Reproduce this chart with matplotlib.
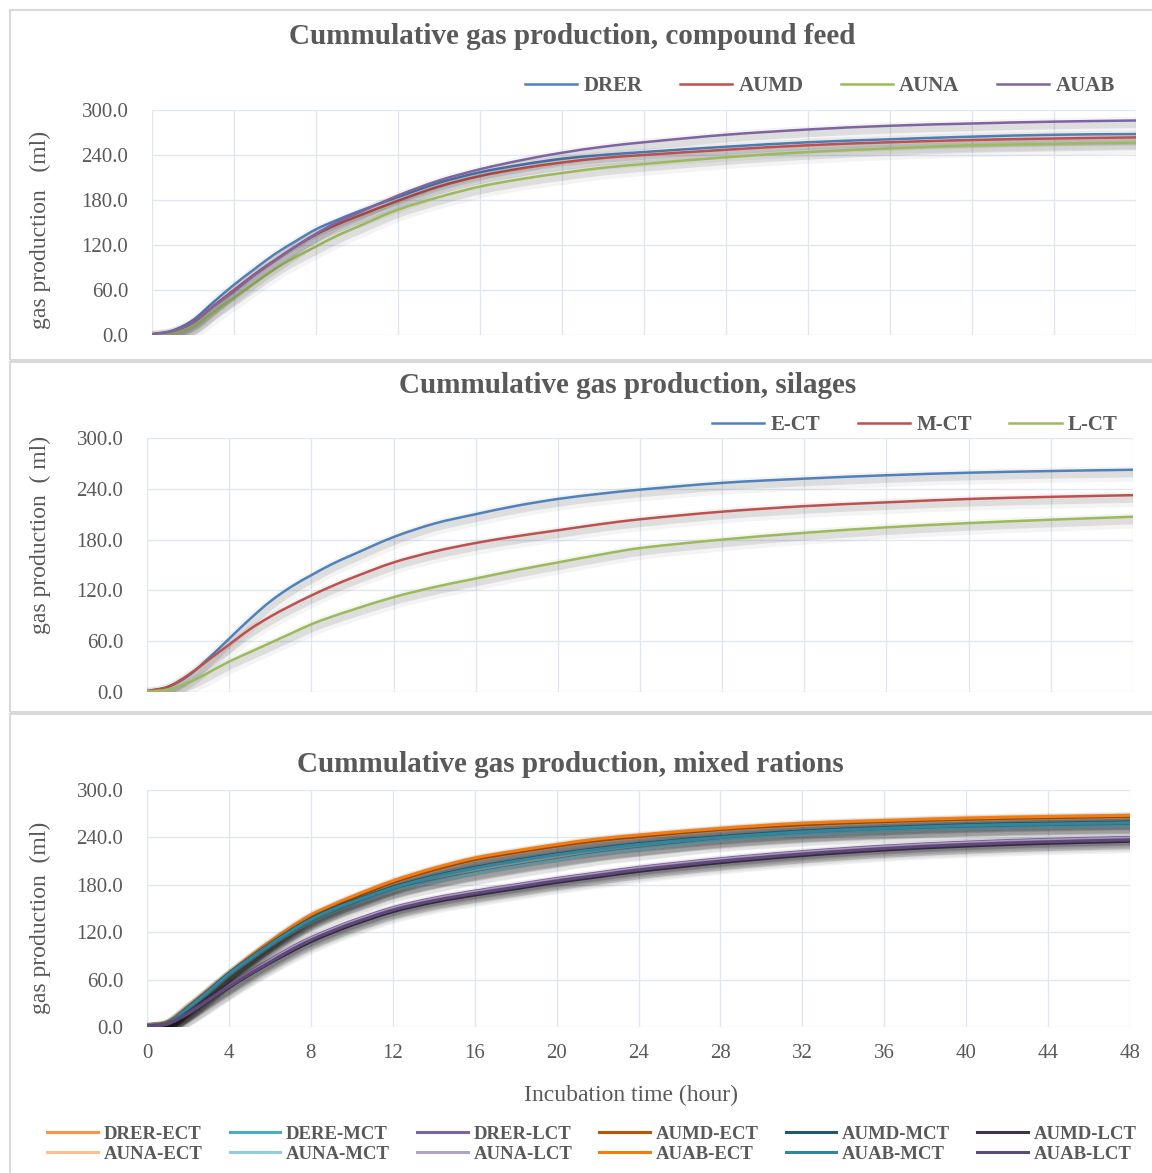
import matplotlib
matplotlib.use("Agg")
import matplotlib.pyplot as plt
import matplotlib.patheffects as pe
from matplotlib.patches import Rectangle, PathPatch
from matplotlib.path import Path
from matplotlib.lines import Line2D

plt.rcParams['font.family'] = ['Liberation Serif', 'DejaVu Serif']

# ---------------- data ----------------
hours = [0, 1, 2, 3, 4, 5, 6, 7, 8, 9, 10, 12, 14, 16, 18, 20, 22, 24, 28, 32, 36, 40, 44, 48]

# compound feed
drer = [1, 6, 20, 44, 67, 88, 108, 125, 141, 153, 164, 184, 203, 217, 227, 235, 240, 244, 251, 257, 261, 264.5, 267, 268]
aumd = [1, 5, 17, 39, 60, 81, 100, 118, 134, 147, 158, 179, 198, 212, 222, 230, 236, 240, 247, 253, 257, 260, 262, 263.5]
auna = [0.5, 3, 11, 31, 50, 69, 88, 104, 118, 132, 144, 167, 184, 198, 208, 216, 223, 228, 237, 244, 249, 253, 255, 256.5]
auab = [1, 5, 16, 38, 58, 80, 99, 118, 135, 150, 162, 186, 206, 221, 233, 243, 251, 257, 267, 274, 279, 282, 284.5, 286]

# silages
e_ct = [1, 6, 19, 40, 63, 86, 107, 124, 138, 151, 162, 183, 199, 210, 220, 228, 234, 239, 247, 252, 256, 259, 261, 262.5]
m_ct = [1, 6, 20, 38, 56, 74, 89, 102, 114, 125, 135, 153, 166, 176, 184, 191, 198, 204, 213, 219.5, 224, 228, 230.5, 232.5]
l_ct = [0.5, 3, 11, 23, 36, 47, 58, 69, 80, 89, 97, 112, 124, 134, 144, 153, 162, 170, 180, 188, 194.5, 199.5, 203.5, 207]

# mixed rations
drer_ect = [1, 6, 25, 46, 67, 88, 107, 125, 141, 153, 164, 184, 200, 213, 222, 230, 237, 242, 250.5, 257, 260.5, 263.5, 265.5, 267]
dere_mct = [1, 5, 22, 44, 66, 85, 104, 119, 133.5, 145, 155, 173, 185, 195, 204, 212, 220, 226, 237, 244, 248.5, 251.5, 253.5, 255]
drer_lct = [0.5, 4, 18, 36, 53, 70, 85, 100, 113, 124, 134, 151, 163, 172, 180, 188, 195, 202, 213, 222, 229, 234, 237.5, 240]
aumd_ect = [1, 6, 25, 46, 67, 87, 106, 124, 140, 152, 163, 183, 199, 212, 221, 229, 236, 241, 250, 256, 260, 263, 265, 266.5]
aumd_mct = [1, 5, 25, 46, 68, 87, 105, 122, 137, 149, 159, 177, 191, 202, 211, 219, 226, 232, 241, 248, 252.5, 256, 258, 259.5]
aumd_lct = [0.5, 4, 16, 33, 50, 66, 81, 95, 108, 119, 129, 146, 158, 167, 175, 183, 190, 197, 208, 217, 224, 229, 232.5, 235]
auna_ect = [1, 5, 24, 45, 66, 86, 105, 123, 139, 151, 162, 182, 198, 211, 220, 228, 235, 240, 249, 255, 259, 262, 264, 265.5]
auna_mct = [1, 5, 22, 43, 65, 84, 102, 118, 132, 144, 154, 172, 184, 194, 203, 211, 219, 225, 236, 243, 247.5, 250.5, 252.5, 254]
auna_lct = [0.5, 4, 18, 35, 52, 69, 84, 99, 112, 123, 133, 150, 162, 171, 179, 187, 194, 201, 212, 221, 228, 233, 236.5, 239]
auab_ect = [1, 6, 26, 47, 68, 89, 108, 126, 142, 154, 165, 185, 201, 214, 223, 231, 238, 243, 251.5, 258, 261.5, 264.5, 266.5, 268]
auab_mct = [1, 5, 24, 45, 67, 86, 104, 121, 136, 148, 158, 176, 190, 201, 210, 218, 225, 231, 240, 247, 251.5, 255, 257, 258.5]
auab_lct = [0.5, 4, 17, 34, 51, 67, 82, 97, 110, 121, 131, 148, 160, 169, 177, 185, 192, 199, 210, 219, 226, 231, 234.5, 237]

y_ticks = [0, 60, 120, 180, 240, 300]
x_ticks = list(range(0, 49, 4))

TXT = '#595959'
GRID = '#E1E7F0'

W, H = 1152, 1173
fig = plt.figure(figsize=(W / 100, H / 100), dpi=100)


def fx(px):
    return px / W


def fy(py):
    return 1 - py / H


# panel frames
for top, bot in [(10, 360), (362, 712), (714, 1190)]:
    fig.patches.append(Rectangle((fx(10), fy(bot)), fx(1160) - fx(10), fy(top) - fy(bot),
                                 transform=fig.transFigure, fill=False,
                                 edgecolor='#D9D9D9', lw=1.5))


def make_ax(left, right, top, bot, show_x):
    ax = fig.add_axes([fx(left), fy(bot), fx(right) - fx(left), fy(top) - fy(bot)])
    ax.set_xlim(0, 48)
    ax.set_ylim(0, 300)
    ax.set_xticks(x_ticks)
    ax.set_yticks(y_ticks)
    ax.set_yticklabels([f"{v:.1f}" for v in y_ticks])
    ax.grid(True, color=GRID, lw=1)
    ax.set_axisbelow(True)
    for s in ax.spines.values():
        s.set_visible(False)
    ax.tick_params(length=0, labelsize=15, labelcolor=TXT, pad=17)
    if not show_x:
        ax.set_xticklabels([])
    else:
        ax.tick_params(axis='x', pad=12)
    return ax


def shade(strength):
    return [pe.SimpleLineShadow(offset=(1, -2.5), shadow_color='k', alpha=0.09 * strength, linewidth=6),
            pe.SimpleLineShadow(offset=(1, -3), shadow_color='k', alpha=0.045 * strength, linewidth=11),
            pe.Normal()]


def smooth_line(ax, xs, ys, color, lw, strength):
    # Excel style smoothed line: cubic Bezier through the data points
    n = len(xs)
    slopes = []
    for i in range(n):
        a, b = max(i - 1, 0), min(i + 1, n - 1)
        slopes.append((ys[b] - ys[a]) / (xs[b] - xs[a]))
    verts = [(xs[0], ys[0])]
    codes = [Path.MOVETO]
    for i in range(n - 1):
        d = (xs[i + 1] - xs[i]) / 3
        verts += [(xs[i] + d, ys[i] + slopes[i] * d),
                  (xs[i + 1] - d, ys[i + 1] - slopes[i + 1] * d),
                  (xs[i + 1], ys[i + 1])]
        codes += [Path.CURVE4] * 3
    ax.add_patch(PathPatch(Path(verts, codes), fill=False, edgecolor=color, lw=lw,
                           capstyle='round', path_effects=shade(strength)))
    return Line2D([], [], color=color, lw=lw)


def add_legend(handles, labels, cx, cy, ncol, size, hl, cs, ls=0.2):
    leg = fig.legend(handles, labels, loc='center', bbox_to_anchor=(fx(cx), fy(cy)),
                     ncol=ncol, frameon=False, handlelength=hl, handletextpad=0.3,
                     columnspacing=cs, labelspacing=ls, prop={'size': size, 'weight': 'bold'})
    for t in leg.get_texts():
        t.set_color(TXT)


# ---------------- panel 1 ----------------
ax1 = make_ax(152, 1136, 110, 335, False)
series1 = [(drer, '#4F81BD', 'DRER'), (aumd, '#C0504D', 'AUMD'),
           (auna, '#9BBB59', 'AUNA'), (auab, '#8064A2', 'AUAB')]
hs = [smooth_line(ax1, hours, v, c, 1.8, 1) for v, c, _ in series1]
fig.text(fx(572), fy(37), 'Cummulative gas production, compound feed', ha='center', va='center',
         fontsize=21, fontweight='bold', color=TXT)
fig.text(fx(40), fy(230), 'gas production   (ml)', rotation=90, ha='center', va='center',
         fontsize=17, color=TXT)
add_legend(hs, [s[2] for s in series1], 820, 86, 4, 15, 2.5, 1.8)

# ---------------- panel 2 ----------------
ax2 = make_ax(147, 1133, 438, 692, False)
series2 = [(e_ct, '#4F81BD', 'E-CT'), (m_ct, '#C0504D', 'M-CT'), (l_ct, '#9BBB59', 'L-CT')]
hs = [smooth_line(ax2, hours, v, c, 1.8, 1) for v, c, _ in series2]
fig.text(fx(628), fy(385), 'Cummulative gas production, silages', ha='center', va='center',
         fontsize=21, fontweight='bold', color=TXT)
fig.text(fx(40), fy(535), 'gas production  ( ml)', rotation=90, ha='center', va='center',
         fontsize=17, color=TXT)
add_legend(hs, [s[2] for s in series2], 915, 425, 3, 15, 2.5, 1.8)

# ---------------- panel 3 ----------------
ax3 = make_ax(147, 1130, 790, 1027, True)
# ordered column by column so the 2-row legend reads like the reference
series3 = [
    (drer_ect, '#F79646', 'DRER-ECT'), (auna_ect, '#FAC090', 'AUNA-ECT'),
    (dere_mct, '#4BACC6', 'DERE-MCT'), (auna_mct, '#93CDDD', 'AUNA-MCT'),
    (drer_lct, '#8064A2', 'DRER-LCT'), (auna_lct, '#B3A2C7', 'AUNA-LCT'),
    (aumd_ect, '#B65708', 'AUMD-ECT'), (auab_ect, '#F27D12', 'AUAB-ECT'),
    (aumd_mct, '#215968', 'AUMD-MCT'), (auab_mct, '#31859C', 'AUAB-MCT'),
    (aumd_lct, '#3F3151', 'AUMD-LCT'), (auab_lct, '#5F497A', 'AUAB-LCT'),
]
hs = [smooth_line(ax3, hours, v, c, 2.2, 1.2) for v, c, _ in series3]
fig.text(fx(570), fy(764), 'Cummulative gas production, mixed rations', ha='center', va='center',
         fontsize=21, fontweight='bold', color=TXT)
fig.text(fx(40), fy(918), 'gas production  (ml)', rotation=90, ha='center', va='center',
         fontsize=17, color=TXT)
fig.text(fx(631), fy(1095), 'Incubation time (hour)', ha='center', va='center',
         fontsize=17, color=TXT)
add_legend(hs, [s[2] for s in series3], 592, 1144, 6, 13.5, 2.7, 1.45, ls=0.15)

fig.savefig('out.png', dpi=100)
